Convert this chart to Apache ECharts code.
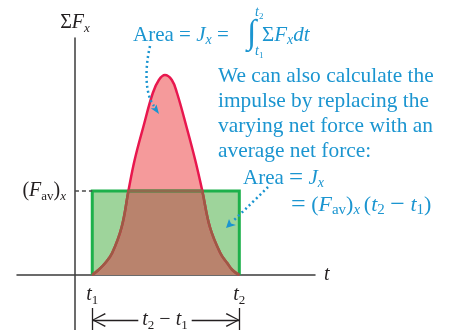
<!DOCTYPE html>
<html>
<head>
<meta charset="utf-8">
<script src="https://cdn.jsdelivr.net/npm/echarts@6/dist/echarts.min.js"></script>
<style>
  html, body { margin: 0; padding: 0; background: #fff; }
  #chart { width: 454px; height: 330px; }
</style>
</head>
<body>
<div id="chart"></div>
<script>
// t1, t2 and the average force level
const tTicks = [2, 19]
const favValue = 4.2
// the net force pulse
const curveT = [2, 2.7, 3.5, 4.3, 5.4, 6.2, 6.9, 7.9, 9.0, 9.7, 10.4, 11.2, 11.8, 12.9, 13.9, 14.7, 15.6, 16.8, 17.6, 18.2, 19]
const curveF = [0, 0.25, 0.6, 1.1, 2.4, 4.25, 5.75, 7.4, 9.1, 9.75, 10, 9.75, 9.1, 7.4, 5.75, 4.25, 2.4, 1.1, 0.6, 0.25, 0]
// average force rectangle
const rectT = [2, 2, 19, 19]
const rectF = [0, 4.2, 4.2, 0]
// where the pulse crosses (F_av)_x
const crossT = [6.2, 14.7]
// dimension line  |<- t2 - t1 ->|
const dimF = -2.25
const barF = [-1.65, -2.75]

const xRange = [-6.7, 27.75]
const yRange = [-2.75, 11.85]

const GRID = { left: 17, right: 139, top: 38, bottom: 0 }
const plotW = 454 - GRID.left - GRID.right
const plotH = 330 - GRID.top - GRID.bottom
const pxPerT = plotW / (xRange[1] - xRange[0])
const pxPerF = plotH / (yRange[1] - yRange[0])

const SERIF = 'Liberation Serif'
const CYAN = '#1b95d0'
const INK = '#231f20'

// rich text styles; key is 'color' for labels, 'fill' for graphic text
function richSet(size, colorKey, color) {
  const sub = Math.round(size * 0.66)
  const c = {}
  c[colorKey] = color
  return {
    n: Object.assign({ fontFamily: SERIF, fontSize: size, lineHeight: size + 4 }, c),
    i: Object.assign({ fontFamily: SERIF, fontSize: size, fontStyle: 'italic', lineHeight: size + 4 }, c),
    op: Object.assign({ fontFamily: SERIF, fontSize: size + 4, lineHeight: size + 4 }, c),
    s: Object.assign({ fontFamily: SERIF, fontSize: sub, fontStyle: 'italic', verticalAlign: 'bottom', lineHeight: sub - 1 }, c),
    u: Object.assign({ fontFamily: SERIF, fontSize: sub, verticalAlign: 'bottom', lineHeight: sub - 1 }, c)
  }
}

const chart = echarts.init(document.getElementById('chart'))

const pairs = (xs, ys) => xs.map((x, i) => [x, ys[i]])

// open arrow head, tip in the middle of the symbol box
const arrowHead = 'path://M7,0 L7.01,0 L7,0.01 Z M7,13 L14,26 L12.8,26.8 L7,15.2 L1.2,26.8 L0,26 Z'

const axisLineStyle = { color: '#3b3b3b', width: 1.5 }

const option = {
  animation: false,
  textStyle: { fontFamily: SERIF },
  grid: [
    Object.assign({ outerBoundsMode: 'none' }, GRID),
    // same x scale, clipped at (F_av)_x to draw the overlap
    { left: GRID.left, right: GRID.right, top: GRID.top + (yRange[1] - favValue) * pxPerF, bottom: 0, outerBoundsMode: 'none' }
  ],
  xAxis: [
    {
      gridIndex: 0,
      type: 'value',
      min: xRange[0],
      max: xRange[1],
      position: 'bottom',
      offset: yRange[0] * pxPerF,
      axisLine: { onZero: false, lineStyle: axisLineStyle },
      axisTick: { show: false },
      splitLine: { show: false },
      axisLabel: {
        customValues: tTicks,
        margin: 8,
        formatter: v => (v === tTicks[0] ? '{i|t}{u|1}' : '{i|t}{u|2}'),
        rich: richSet(20, 'color', INK)
      },
      name: '{i|t}',
      nameLocation: 'end',
      nameGap: 9,
      nameTextStyle: { rich: richSet(20, 'color', INK) }
    },
    { gridIndex: 1, type: 'value', min: xRange[0], max: xRange[1], show: false }
  ],
  yAxis: [
    {
      gridIndex: 0,
      type: 'value',
      min: yRange[0],
      max: yRange[1],
      position: 'left',
      offset: xRange[0] * pxPerT,
      axisLine: { onZero: false, lineStyle: axisLineStyle },
      axisTick: { show: false },
      splitLine: { show: false },
      axisLabel: {
        customValues: [favValue],
        margin: 9,
        formatter: () => '{n|(}{i|F}{u|av}{n|)}{s|x}',
        rich: richSet(20, 'color', INK)
      },
      name: '{n|Σ}{i|F}{s|x}',
      nameLocation: 'end',
      nameGap: 3,
      nameTextStyle: { rich: richSet(20, 'color', INK) }
    },
    { gridIndex: 1, type: 'value', min: yRange[0], max: favValue, show: false }
  ],
  series: [
    {
      name: 'average',
      type: 'line',
      data: pairs(rectT, rectF),
      symbol: 'none',
      lineStyle: { color: '#1db04b', width: 3, join: 'miter' },
      areaStyle: { color: '#9ed49b', opacity: 1 },
      markLine: {
        silent: true,
        symbol: ['none', 'none'],
        lineStyle: { color: INK, width: 1.3, type: 'solid' },
        label: { show: false },
        data: [
          [
            { coord: [tTicks[0], dimF], symbol: arrowHead, symbolSize: [14, 27] },
            { coord: [tTicks[1], dimF], symbol: arrowHead, symbolSize: [14, 27] }
          ],
          [{ coord: [tTicks[0], barF[0]] }, { coord: [tTicks[0], barF[1]] }],
          [{ coord: [tTicks[1], barF[0]] }, { coord: [tTicks[1], barF[1]] }]
        ]
      }
    },
    {
      name: 'pulse',
      type: 'line',
      data: pairs(curveT, curveF),
      smooth: 0.4,
      symbol: 'none',
      lineStyle: { color: '#e8174e', width: 2.5 },
      areaStyle: { color: '#f59a9b', opacity: 1 }
    },
    {
      name: 'overlap',
      type: 'line',
      xAxisIndex: 1,
      yAxisIndex: 1,
      data: pairs(curveT, curveF),
      smooth: 0.4,
      symbol: 'none',
      clip: true,
      lineStyle: { color: '#9c5b44', width: 2.5 },
      areaStyle: { color: '#b9836d', opacity: 1 }
    },
    {
      name: 'edge',
      type: 'line',
      data: crossT.map(t => [t, favValue]),
      symbol: 'none',
      lineStyle: { color: '#8e6a4d', width: 3 }
    },
    {
      name: 'guide',
      type: 'line',
      data: [[0, favValue], [tTicks[0], favValue]],
      symbol: 'none',
      lineStyle: { color: '#4a4a4a', width: 1.3, type: [4, 3] }
    }
  ],
  graphic: [
    // dimension label
    {
      type: 'text', x: 165, y: 320, z: 100,
      style: { text: '{i|t}{u|2}{n| }{n|−}{n| }{i|t}{u|1}', rich: richSet(20, 'fill', INK), align: 'center', verticalAlign: 'middle', backgroundColor: '#fff', padding: [0, 4] }
    },
    // top formula
    {
      type: 'text', x: 133, y: 35, z: 100,
      style: { text: '{n|Area = }{i|J}{s|x}{n| =}', rich: richSet(21, 'fill', CYAN), verticalAlign: 'middle' }
    },
    {
      type: 'text', x: 247, y: 34, z: 100,
      style: { text: '∫', fontFamily: SERIF, fontSize: 34, fill: CYAN, verticalAlign: 'middle' }
    },
    {
      type: 'text', x: 255, y: 12, z: 100,
      style: { text: '{i|t}{u|2}', rich: richSet(14, 'fill', CYAN), verticalAlign: 'middle' }
    },
    {
      type: 'text', x: 255, y: 51, z: 100,
      style: { text: '{i|t}{u|1}', rich: richSet(14, 'fill', CYAN), verticalAlign: 'middle' }
    },
    {
      type: 'text', x: 262, y: 35, z: 100,
      style: { text: '{n|Σ}{i|F}{s|x}{i|dt}', rich: richSet(21, 'fill', CYAN), verticalAlign: 'middle' }
    },
    // explanation
    {
      type: 'text', x: 218, y: 64, z: 100,
      style: {
        text: 'We can also calculate the\nimpulse by replacing the\nvarying net force with an\naverage net force:',
        fontFamily: SERIF, fontSize: 21.4, lineHeight: 25, fill: CYAN
      }
    },
    {
      type: 'text', x: 243, y: 178, z: 100,
      style: { text: '{n|Area }{op|=}{n| }{i|J}{s|x}', rich: richSet(21, 'fill', CYAN), verticalAlign: 'middle' }
    },
    {
      type: 'text', x: 291, y: 205, z: 100,
      style: { text: '{op|=}{n| (}{i|F}{u|av}{n|)}{s|x }{n|(}{i|t}{u|2}{n| }{op|−}{n| }{i|t}{u|1}{n|)}', rich: richSet(22, 'fill', CYAN), verticalAlign: 'middle' }
    },
    // dotted pointers
    {
      type: 'bezierCurve', z: 100,
      shape: { x1: 150, y1: 46, cpx1: 144, cpy1: 72, cpx2: 146, cpy2: 96, x2: 154, y2: 106 },
      style: { stroke: CYAN, lineWidth: 2.5, lineDash: [2, 3], fill: null }
    },
    {
      type: 'polygon', z: 100,
      shape: { points: [[159, 114], [156.5, 104.4], [154.5, 108.2], [150.7, 108.2]] },
      style: { fill: CYAN }
    },
    {
      type: 'bezierCurve', z: 100,
      shape: { x1: 268, y1: 187, cpx1: 252, cpy1: 203, x2: 233, y2: 221 },
      style: { stroke: CYAN, lineWidth: 2.5, lineDash: [2, 3], fill: null }
    },
    {
      type: 'polygon', z: 100,
      shape: { points: [[226, 228], [229, 219], [231, 223.5], [236, 225]] },
      style: { fill: CYAN }
    }
  ]
}

chart.setOption(option)
</script>
</body>
</html>
